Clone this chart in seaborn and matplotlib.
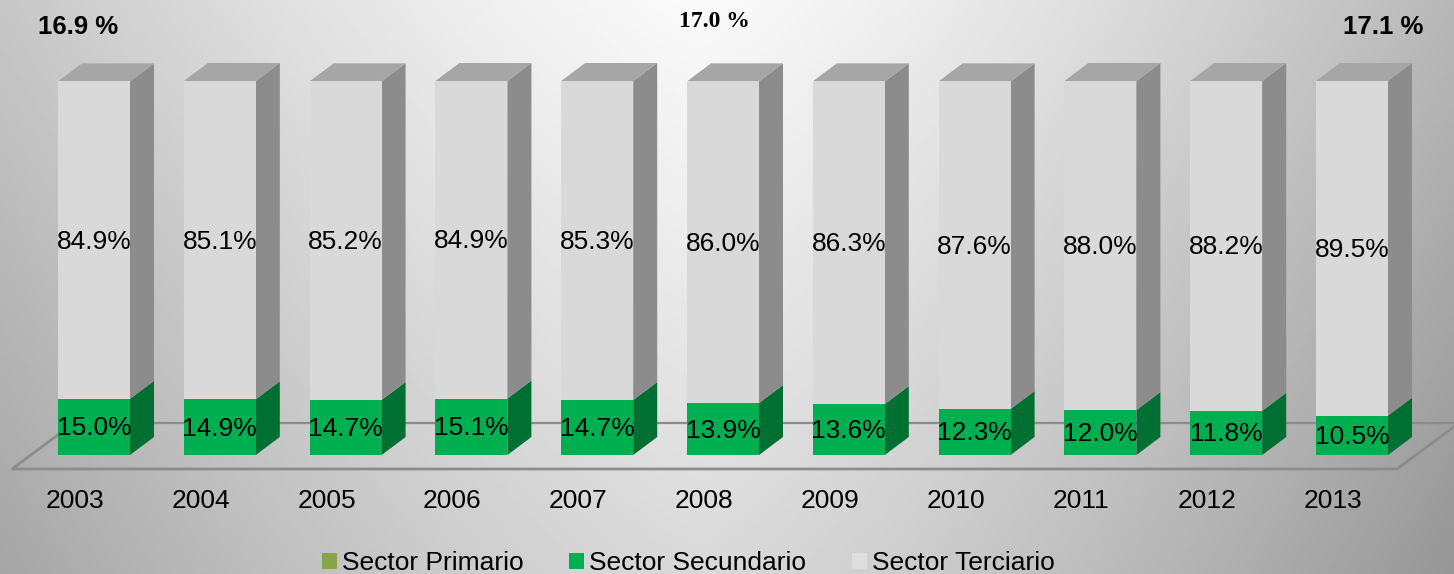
import numpy as np
import matplotlib
matplotlib.use("Agg")
import matplotlib.pyplot as plt
from matplotlib.patches import Polygon, Patch
import seaborn as sns

years = ["2003", "2004", "2005", "2006", "2007", "2008", "2009", "2010", "2011", "2012", "2013"]
primario = [0.0, 0.0, 0.0, 0.0, 0.0, 0.0, 0.0, 0.0, 0.0, 0.0, 0.0]
secundario = [15.0, 14.9, 14.7, 15.1, 14.7, 13.9, 13.6, 12.3, 12.0, 11.8, 10.5]
terciario = [84.9, 85.1, 85.2, 84.9, 85.3, 86.0, 86.3, 87.6, 88.0, 88.2, 89.5]
top_labels = ["16.9 %", "17.0 %", "17.1 %"]

# pixel scale of the reference
W, H = 1454, 574
x0_px, step_px = 94.0, 125.8
y0_px, unit_px = 455.0, 3.74
bar_w = 72.0 / step_px

def px_x(p):
    return (p - x0_px) / step_px

def px_y(p):
    return (y0_px - p) / unit_px

dx = 24 / step_px     # depth of the 3d look
dy = 18 / unit_px

sns.set_theme(style="white")
plt.rcParams['font.family'] = ['Liberation Sans', 'DejaVu Sans']

fig = plt.figure(figsize=(W / 100, H / 100), dpi=100)
ax = fig.add_axes([0, 0, 1, 1])

# background
xx, yy = np.meshgrid(np.linspace(0, 1, 500), np.linspace(0, 1, 250))
left = np.abs(xx - 0.48) / 0.48
right = np.abs(xx - 0.48) / 0.52
side = np.where(xx < 0.48, 0.20 * left ** 1.3, 0.26 * right ** 1.3)
ax.imshow(0.98 - side - 0.13 * yy, cmap="gray", vmin=0, vmax=1, aspect="auto", zorder=0,
          extent=[px_x(0), px_x(W), px_y(H), px_y(0)], origin="upper")

# floor
floor_c = "#8c8c8c"
ax.plot([px_x(74), px_x(1459)], [px_y(423), px_y(423)], color=floor_c, lw=1.6, zorder=1)
ax.plot([px_x(74), px_x(12), px_x(1397), px_x(1459)], [px_y(423), px_y(469), px_y(469), px_y(423)],
        color=floor_c, lw=2, zorder=1, solid_joinstyle="miter")

sec = np.array(secundario)
ter = np.array(terciario)

# front faces
sns.barplot(x=years, y=secundario, order=years, color="#00b050", saturation=1, width=bar_w,
            ax=ax, zorder=3, errorbar=None, linewidth=0)
sns.barplot(x=years, y=terciario, order=years, color="#d9d9d9", saturation=1, width=bar_w,
            bottom=secundario, ax=ax, zorder=3, errorbar=None, linewidth=0)

shift = 1.5 / unit_px   # text sits a bit lower than the middle

# side and top faces
for i in range(len(years)):
    r_edge = i + bar_w / 2
    l_edge = i - bar_w / 2
    s = sec[i]
    t = s + ter[i]
    ax.add_patch(Polygon([(r_edge, 0), (r_edge + dx, dy), (r_edge + dx, s + dy), (r_edge, s)],
                         fc="#006f32", ec="none", zorder=2))
    ax.add_patch(Polygon([(r_edge, s), (r_edge + dx, s + dy), (r_edge + dx, t + dy), (r_edge, t)],
                         fc="#8c8c8c", ec="none", zorder=2))
    ax.add_patch(Polygon([(l_edge, t), (l_edge + dx, t + dy), (r_edge + dx, t + dy), (r_edge, t)],
                         fc="#a6a6a6", ec="none", zorder=2))
    ax.text(i, s / 2 - shift, f"{secundario[i]:.1f}%", ha="center", va="center", fontsize=19, color="black", zorder=5)
    ax.text(i, s + ter[i] / 2 - shift, f"{terciario[i]:.1f}%", ha="center", va="center", fontsize=19, color="black", zorder=5)
    ax.text(i - 19 / step_px, px_y(501.5), years[i], ha="center", va="center", fontsize=19, color="black", zorder=5)

ax.text(px_x(78), px_y(26.5), top_labels[0], ha="center", va="center", fontsize=18.5, fontweight="bold", color="black")
ax.text(px_x(714), px_y(21.5), top_labels[1], ha="center", va="center", fontsize=17, fontweight="bold",
        family="Liberation Serif", color="black")
ax.text(px_x(1383), px_y(26.5), top_labels[2], ha="center", va="center", fontsize=18.5, fontweight="bold", color="black")

handles = [Patch(fc="#86a44a", ec="none", lw=0, label="Sector Primario"),
           Patch(fc="#00b050", ec="none", lw=0, label="Sector Secundario"),
           Patch(fc="#dedede", ec="none", lw=0, label="Sector Terciario")]
ax.legend(handles=handles, ncol=3, frameon=False, fontsize=19, loc="center", labelcolor="black",
          bbox_to_anchor=(688.5 / W, 1 - 563.5 / H), bbox_transform=fig.transFigure,
          handlelength=0.57, handleheight=0.55, handletextpad=0.19, columnspacing=1.72,
          borderpad=0, labelspacing=0)

ax.set_xlim(px_x(0), px_x(W))
ax.set_ylim(px_y(H), px_y(0))
ax.axis("off")

fig.savefig("out.png", dpi=100)
